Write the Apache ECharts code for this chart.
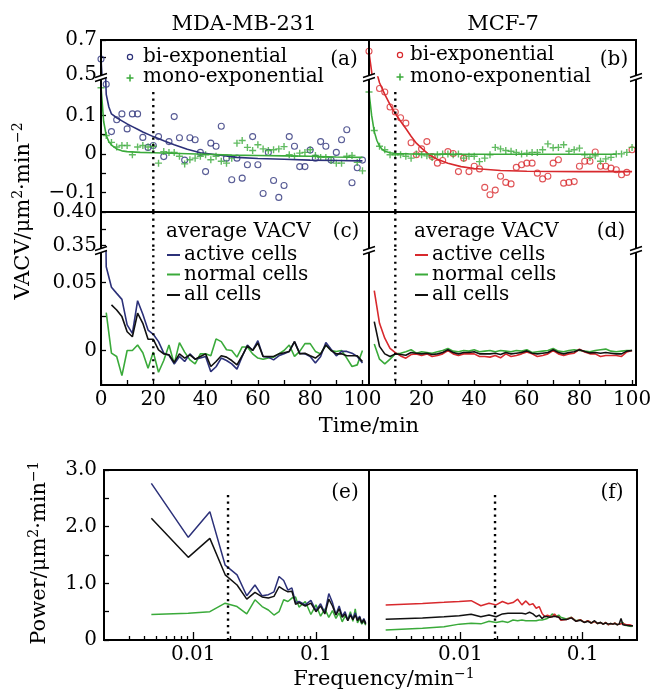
<!DOCTYPE html>
<html><head><meta charset="utf-8">
<script src="https://cdn.jsdelivr.net/npm/echarts@6/dist/echarts.min.js"></script>
<style>html,body{margin:0;padding:0;background:#fff}#c{width:650px;height:691px}</style>
</head><body><div id="c"></div>
<script>
// ---------------- DATA ----------------
const minutes = [0,2,4,6,8,10,12,14,16,18,20,22,24,26,28,30,32,34,36,38,40,42,44,46,48,50,52,54,56,58,60,62,64,66,68,70,72,74,76,78,80,82,84,86,88,90,92,94,96,98,100];

// (a) MDA-MB-231 VACV of single cells
const biA = [0.591,0.181,0.058,0.089,0.104,0.065,0.104,0.104,0.043,0.017,0.022,0.045,-0.007,0.032,0.097,0.042,-0.016,0.042,0.037,0.004,-0.046,0.028,0.020,0.072,-0.011,-0.067,-0.011,-0.063,-0.028,0.045,-0.028,-0.103,0.004,-0.069,-0.113,-0.082,0.045,0.020,-0.033,-0.033,0.010,-0.011,0.032,0.020,-0.016,0.004,0.037,0.063,-0.075,-0.036,-0.016];
const monoA = [0.172,0.048,0.030,0.018,0.022,0.022,-0.002,0.018,0.022,0.018,0.020,-0.024,0.006,0.004,0.004,-0.006,-0.026,-0.015,-0.011,-0.006,-0.002,-0.015,-0.006,-0.019,-0.024,-0.011,0.028,0.035,0.017,0.009,0.024,0.013,0.009,0.011,0.013,0.019,-0.002,-0.006,0.002,0.004,0.011,-0.004,-0.009,-0.009,-0.017,-0.024,-0.024,-0.006,-0.004,-0.022,-0.044];
const biFitTimeA = [0,1,2,3,4,6,8,10,12,14,16,20,24,28,33,38,45,52,60,70,80,90,100];
const biFitA = [0.59,0.35,0.155,0.122,0.104,0.094,0.086,0.078,0.071,0.064,0.057,0.045,0.034,0.024,0.012,0.003,-0.003,-0.009,-0.012,-0.014,-0.016,-0.017,-0.018];
const monoFitTimeA = [0,1,2,3,4,6,8,10,15,20,30,40,50,60,70,80,90,100];
const monoFitA = [0.176,0.085,0.048,0.032,0.023,0.013,0.008,0.006,0.004,0.003,0.001,-0.001,-0.003,-0.004,-0.005,-0.006,-0.008,-0.009];

// (b) MCF-7
const biB = [0.636,0.30,0.170,0.161,0.122,0.109,0.094,0.080,0.029,-0.002,0.013,0.032,-0.007,-0.024,-0.017,0.006,0.001,-0.046,-0.011,-0.046,-0.032,-0.039,-0.087,-0.106,-0.094,-0.058,-0.074,-0.078,-0.035,-0.028,-0.024,-0.024,-0.050,-0.065,-0.058,-0.024,-0.015,-0.076,-0.074,-0.072,-0.032,-0.019,-0.019,0.005,-0.032,-0.032,-0.037,-0.041,-0.054,-0.048,0.011];
const monoB = [0.161,0.061,0.020,0.011,-0.002,-0.002,-0.002,-0.006,-0.011,0.000,-0.002,-0.005,-0.009,-0.002,0.000,0.000,-0.002,0.000,-0.011,-0.006,-0.006,-0.020,-0.011,-0.002,0.017,0.013,0.009,0.007,0.004,0.000,0.002,0.004,0.004,0.011,0.026,0.016,0.017,0.024,0.007,0.011,0.015,-0.002,-0.009,-0.005,-0.019,-0.013,-0.009,0.000,0.000,0.004,0.017];
const biFitTimeB = [0,1,2,3,4,6,8,10,12,14,16,18,20,23,26,30,35,40,50,60,80,100];
const biFitB = [0.63,0.52,0.35,0.21,0.185,0.155,0.128,0.105,0.085,0.066,0.046,0.028,0.015,-0.003,-0.014,-0.024,-0.033,-0.038,-0.043,-0.045,-0.046,-0.046];
const monoFitTimeB = [0,1,2,3,4,5,6,8,10,15,30,50,70,94];
const monoFitB = [0.161,0.10,0.058,0.035,0.020,0.012,0.007,0.003,0.001,0.0,-0.001,-0.001,-0.001,-0.001];

// (c) MDA-MB-231 average VACV
const activeC = [0.355,0.0616,0.0465,0.042,0.0376,0.0188,0.0126,0.0366,0.0266,0.015,0.0119,0.0065,-0.002,-0.0036,-0.0099,-0.0044,-0.0081,-0.0025,-0.0064,-0.0056,-0.0044,-0.0156,-0.012,-0.0056,-0.0074,-0.0099,-0.0137,-0.0044,0.004,0.0,0.0072,-0.0044,-0.0049,-0.0069,-0.0039,-0.0025,-0.0007,0.0065,-0.002,-0.0025,-0.0044,-0.0093,-0.0044,0.0058,0.0009,-0.0039,-0.0007,-0.0007,-0.002,-0.0044,-0.0093];
const normalC = [null,0.0278,-0.002,-0.0044,-0.0185,0.0,0.0,0.004,-0.0017,-0.0131,-0.0012,-0.016,-0.0074,0.004,-0.0099,0.0058,-0.0012,-0.0069,-0.0098,-0.0025,-0.0025,-0.0039,0.0085,0.0065,0.0005,0.0,-0.0049,0.0026,0.0026,-0.0025,-0.0056,-0.0064,-0.0056,-0.0049,-0.0025,0.0,0.004,-0.0044,-0.0007,0.005,0.005,-0.0007,-0.0025,0.004,0.0,-0.0007,0.0,-0.0056,-0.0118,-0.0106,0.0];
const allC = [null,null,0.0335,0.0298,0.0249,0.0138,0.0101,0.0274,0.02,0.0082,0.0082,0.0005,-0.0025,-0.0032,-0.0088,-0.0025,-0.0056,-0.0032,-0.0064,-0.0044,-0.0025,-0.0118,-0.0081,-0.0039,-0.0049,-0.0074,-0.0106,-0.0039,0.0034,0.0,0.0055,-0.0044,-0.0044,-0.0044,-0.0025,-0.0017,-0.0007,0.0065,-0.0025,-0.002,-0.0039,-0.0056,-0.0025,0.004,0.0,-0.0025,-0.0025,-0.0039,-0.0039,-0.0039,-0.0081];

// (d) MCF-7 average VACV
const activeD = [null,0.044,0.020,0.009,0.0016,-0.0016,-0.004,-0.0057,-0.003,-0.0025,-0.0037,-0.0025,-0.0044,-0.0037,-0.0025,0.0,-0.0025,-0.0037,-0.0025,-0.0025,-0.0025,-0.0044,-0.0044,-0.0049,-0.0037,-0.0054,-0.0025,-0.0044,-0.0037,-0.0025,-0.0011,-0.0025,-0.0044,-0.0037,-0.0025,0.0,-0.0025,-0.0037,-0.0025,-0.002,0.0009,-0.0011,-0.0025,-0.0025,-0.0044,-0.0037,-0.0037,-0.0037,-0.0044,-0.0011,0.0];
const normalD = [null,0.0048,-0.0064,-0.0098,-0.0064,-0.0025,-0.002,-0.001,0.0005,-0.002,-0.001,-0.0015,-0.002,-0.001,0.0,0.0015,-0.0005,-0.001,0.0,-0.0005,0.0005,-0.001,-0.0005,0.0,-0.001,0.0,-0.0005,-0.001,0.0,-0.0005,0.0005,-0.0015,-0.001,-0.0005,0.0,0.0015,-0.0005,-0.001,0.0,0.0005,0.0,-0.0005,-0.001,0.0,0.0005,0.001,-0.0005,-0.001,-0.0005,0.0,0.0];
const allD = [null,0.0212,0.003,-0.0025,-0.0044,-0.0025,-0.003,-0.0035,-0.0015,-0.002,-0.0025,-0.002,-0.003,-0.0025,-0.0015,0.0005,-0.0015,-0.0025,-0.0015,-0.0015,-0.001,-0.0025,-0.0025,-0.0025,-0.002,-0.003,-0.0015,-0.0025,-0.002,-0.0015,-0.0003,-0.002,-0.0025,-0.002,-0.0015,0.0005,-0.0015,-0.0025,-0.0015,-0.001,0.0005,-0.0008,-0.0018,-0.0015,-0.002,-0.0015,-0.002,-0.0025,-0.0025,-0.0005,0.0];

// (e) MDA-MB-231 power spectra
const freqE = [0.00455,0.0091,0.01365,0.0182,0.02275,0.0273,0.03185,0.0364,0.04095,0.0455,0.05005,0.0546,0.05915,0.0637,0.06825,0.0728,0.0819,0.091,0.1001,0.1092,0.1183,0.1274,0.1365,0.1456,0.1547,0.1638,0.1729,0.182,0.1911,0.2002,0.2093,0.2184,0.2275,0.2366,0.2457,0.2548];
const activeE = [2.765,1.812,2.265,1.32,1.15,0.78,0.97,0.78,0.80,0.85,1.12,1.05,0.88,0.92,0.66,0.68,0.62,0.70,0.52,0.64,0.48,0.82,0.66,0.45,0.60,0.42,0.50,0.35,0.46,0.38,0.48,0.36,0.42,0.30,0.38,0.30];
const allE = [2.147,1.459,1.794,1.15,0.97,0.72,0.84,0.76,0.74,0.77,0.94,0.89,0.85,0.86,0.63,0.66,0.60,0.65,0.50,0.60,0.46,0.72,0.60,0.44,0.55,0.40,0.46,0.34,0.44,0.36,0.44,0.34,0.40,0.30,0.36,0.28];
const normalE = [0.45,0.47,0.50,0.65,0.59,0.46,0.71,0.59,0.53,0.44,0.50,0.71,0.68,0.74,0.76,0.58,0.68,0.45,0.62,0.42,0.55,0.40,0.52,0.38,0.48,0.32,0.42,0.36,0.50,0.33,0.55,0.30,0.38,0.28,0.33,0.26];

// (f) MCF-7 power spectra
const freqF = [0.00245,0.0049,0.00735,0.0098,0.01225,0.0147,0.01715,0.0196,0.02205,0.0245,0.02695,0.0294,0.03185,0.0343,0.03675,0.0392,0.04165,0.0441,0.04655,0.049,0.05145,0.0539,0.05635,0.0588,0.06125,0.0637,0.06615,0.0686,0.0735,0.08085,0.0882,0.09555,0.1029,0.11025,0.1176,0.12495,0.1323,0.13965,0.147,0.15435,0.1617,0.16905,0.1764,0.18375,0.1911,0.19845,0.2058,0.21315,0.2205,0.22785,0.2352,0.24255,0.2499,0.25725];
const activeF = [0.618,0.645,0.665,0.68,0.694,0.605,0.65,0.62,0.68,0.64,0.66,0.72,0.62,0.69,0.62,0.64,0.56,0.59,0.47,0.41,0.44,0.42,0.41,0.46,0.41,0.41,0.35,0.38,0.36,0.40,0.33,0.36,0.31,0.34,0.30,0.33,0.29,0.31,0.28,0.31,0.27,0.29,0.28,0.30,0.27,0.28,0.26,0.29,0.26,0.27,0.25,0.27,0.24,0.25];
const allF = [0.365,0.39,0.41,0.43,0.453,0.41,0.44,0.41,0.46,0.47,0.47,0.47,0.47,0.46,0.49,0.46,0.41,0.44,0.38,0.42,0.41,0.40,0.41,0.42,0.41,0.40,0.36,0.38,0.36,0.39,0.33,0.35,0.31,0.33,0.30,0.34,0.29,0.31,0.28,0.30,0.28,0.29,0.28,0.29,0.27,0.28,0.38,0.27,0.27,0.26,0.27,0.25,0.25,0.25];
const normalF = [0.176,0.206,0.235,0.28,0.294,0.285,0.33,0.31,0.33,0.31,0.353,0.34,0.353,0.34,0.34,0.34,0.34,0.353,0.353,0.365,0.38,0.41,0.46,0.44,0.42,0.44,0.40,0.40,0.37,0.40,0.34,0.36,0.31,0.34,0.30,0.33,0.29,0.31,0.28,0.31,0.27,0.29,0.28,0.30,0.27,0.28,0.27,0.31,0.26,0.27,0.25,0.27,0.24,0.25];

// reference (dotted) lines
const cutoffTimeMDA = 20, cutoffTimeMCF = 10, cutoffFreq = 0.0192;
const dottedTopVACV = 0.161, dottedBottomVACV = -0.022, dottedTopPower = 2.56;

// tick values
const timeTicks = [0,10,20,30,40,50,60,70,80,90,100];
const timeLabelsC = [0,20,40,60,80,100];
const timeLabelsD = [20,40,60,80,100];
const freqMinorTicks = [0.003,0.004,0.005,0.006,0.007,0.008,0.009,0.02,0.03,0.04,0.05,0.06,0.07,0.08,0.09,0.2];
const freqMajorTicks = [0.01,0.1];

// ---------------- STYLE / LAYOUT ----------------
const NAVY='#2c3179', RED='#d8292d', GREEN='#3aaa3a', BLACK='#111111';
const FONT='"DejaVu Serif","Liberation Serif",serif';
const PLUS='path://M0.4,0H0.6V0.4H1V0.6H0.6V1H0.4V0.6H0V0.4H0.4Z';
const L = {x0:101, xm:369, x1:636, yTop:40, yBrkA:77, yDiv:212, yBrkC:250, yBot:385, eX0:104, eX1:637, eTop:470, eBot:640};
const rng = {aUp:[0.489,0.7], aLo:[-0.151,0.2], cUp:[0.3433,0.40], cLo:[-0.0254,0.0739], e:[0,3],
  tA:102.5, tB:101.5, fE:[0.00187,0.271], fF:[0.00179,0.278]};

function zip(xs, ys){ return xs.map((x,i)=>[x, ys[i]]); }
const grids = [
  {left:L.x0, top:L.yTop, width:L.xm-L.x0, height:L.yBrkA-L.yTop},
  {left:L.x0, top:L.yBrkA, width:L.xm-L.x0, height:L.yDiv-L.yBrkA},
  {left:L.xm, top:L.yTop, width:L.x1-L.xm, height:L.yBrkA-L.yTop},
  {left:L.xm, top:L.yBrkA, width:L.x1-L.xm, height:L.yDiv-L.yBrkA},
  {left:L.x0, top:L.yDiv, width:L.xm-L.x0, height:L.yBrkC-L.yDiv},
  {left:L.x0, top:L.yBrkC, width:L.xm-L.x0, height:L.yBot-L.yBrkC},
  {left:L.xm, top:L.yDiv, width:L.x1-L.xm, height:L.yBrkC-L.yDiv},
  {left:L.xm, top:L.yBrkC, width:L.x1-L.xm, height:L.yBot-L.yBrkC},
  {left:L.eX0, top:L.eTop, width:L.xm-L.eX0, height:L.eBot-L.eTop},
  {left:L.xm, top:L.eTop, width:L.eX1-L.xm, height:L.eBot-L.eTop}
].map(g=>Object.assign({outerBoundsMode:'none', containLabel:false}, g));

const tickStyle = {color:'#000', width:1.3};
const noLine = {show:false, onZero:false};
function labelStyle(margin, fmt, custom){ return {show:!!custom, customValues:custom, margin, formatter:fmt, fontFamily:FONT, fontSize:20, color:'#000'}; }
function tickOpt(custom, len){ return {show:!!custom, inside:true, length:len||5, lineStyle:tickStyle, customValues:custom}; }

function timeAxis(g, max, ticks, labels){
  return {type:'value', gridIndex:g, position:'bottom', min:0, max, axisLine:noLine, splitLine:{show:false},
    axisTick:tickOpt(ticks), axisLabel:labelStyle(5, v=>String(v), labels)};
}
function valAxis(g, r, ticks, labels, fmt, margin){
  return {type:'value', gridIndex:g, position:'left', min:r[0], max:r[1], axisLine:noLine, splitLine:{show:false},
    axisTick:tickOpt(ticks), axisLabel:labelStyle(margin||4, fmt, labels)};
}
const fmt1 = v => v===0 ? '0' : (v<0?'\u2212':'') + Math.abs(v).toFixed(1);
const fmt2 = v => v===0 ? '0' : (v<0?'\u2212':'') + Math.abs(v).toFixed(2);

const xAxes = [
  timeAxis(0, rng.tA), timeAxis(1, rng.tA), timeAxis(2, rng.tB), timeAxis(3, rng.tB),
  timeAxis(4, rng.tA), timeAxis(5, rng.tA, timeTicks, timeLabelsC),
  timeAxis(6, rng.tB), timeAxis(7, rng.tB, timeTicks.slice(1), timeLabelsD),
  {type:'log', gridIndex:8, position:'bottom', logBase:10, min:rng.fE[0], max:rng.fE[1], axisLine:noLine, axisTick:{show:false}, axisLabel:{show:false}, splitLine:{show:false}},
  {type:'log', gridIndex:9, position:'bottom', logBase:10, min:rng.fF[0], max:rng.fF[1], axisLine:noLine, axisTick:{show:false}, axisLabel:{show:false}, splitLine:{show:false}}
];
// companion axes (log10 units) carrying the frequency ticks and labels
function freqTickAxis(g, r){
  return {type:'value', gridIndex:g, position:'bottom', offset:0, min:Math.log10(r[0]), max:Math.log10(r[1]), axisLine:noLine, splitLine:{show:false},
    axisTick:tickOpt(freqMinorTicks.map(Math.log10), 4),
    axisLabel:labelStyle(5, v=>String(+Math.pow(10,v).toPrecision(3)), freqMajorTicks.map(Math.log10))};
}
function freqMajorAxis(g, r){
  return {type:'value', gridIndex:g, position:'bottom', offset:0, min:Math.log10(r[0]), max:Math.log10(r[1]), axisLine:noLine, splitLine:{show:false},
    axisTick:tickOpt(freqMajorTicks.map(Math.log10), 8), axisLabel:{show:false}};
}
xAxes.push(freqTickAxis(8, rng.fE), freqTickAxis(9, rng.fF), freqMajorAxis(8, rng.fE), freqMajorAxis(9, rng.fF));

const yAxes = [
  valAxis(0, rng.aUp, [0.5,0.6,0.7], [0.5,0.7], fmt1),
  valAxis(1, rng.aLo, [-0.1,-0.05,0,0.05,0.1], [-0.1,0,0.1], fmt1),
  valAxis(2, rng.aUp), valAxis(3, rng.aLo),
  valAxis(4, rng.cUp, [0.35,0.375,0.40], [0.35,0.40], fmt2),
  valAxis(5, rng.cLo, [0,0.025,0.05], [0,0.05], fmt2),
  valAxis(6, rng.cUp), valAxis(7, rng.cLo),
  valAxis(8, rng.e, [0,0.5,1,1.5,2,2.5,3], [0,1,2,3], fmt1, 7),
  valAxis(9, rng.e)
];

function scatter(g, data, kind, color){
  const circ = kind==='circle';
  return {type:'scatter', xAxisIndex:g, yAxisIndex:g, data, symbol: circ?'circle':PLUS, symbolSize: circ?6:7,
    itemStyle: circ? {color:'rgba(255,255,255,0)', borderColor:color, borderWidth:1.1} : {color}, silent:true, clip:true, z:2};
}
function line(g, xg, data, color, w){
  return {type:'line', xAxisIndex:xg, yAxisIndex:g, data, symbol:'none', showSymbol:false, lineStyle:{color, width:w||1.6}, silent:true, clip:true, connectNulls:false, z:3};
}
function dotted(g, xg, data){
  return {type:'line', xAxisIndex:xg, yAxisIndex:g, data, symbol:'none', showSymbol:false, lineStyle:{color:'#000', width:2.4, type:[2.2,4.3]}, silent:true, clip:true, z:4};
}

const series = [];
[0,1].forEach(g=>{
  series.push(scatter(g, zip(minutes, biA), 'circle', NAVY), scatter(g, zip(minutes, monoA), 'plus', GREEN),
    line(g, g, zip(biFitTimeA, biFitA), NAVY), line(g, g, zip(monoFitTimeA, monoFitA), GREEN));
});
[2,3].forEach(g=>{
  series.push(scatter(g, zip(minutes, biB), 'circle', RED), scatter(g, zip(minutes, monoB), 'plus', GREEN),
    line(g, g, zip(biFitTimeB, biFitB), RED), line(g, g, zip(monoFitTimeB, monoFitB), GREEN));
});
series.push(dotted(1, 1, [[cutoffTimeMDA, dottedTopVACV],[cutoffTimeMDA, rng.aLo[0]]]));
series.push(dotted(3, 3, [[cutoffTimeMCF, dottedTopVACV],[cutoffTimeMCF, rng.aLo[0]]]));
[4,5].forEach(g=>{
  series.push(line(g, g, zip(minutes, normalC), GREEN), line(g, g, zip(minutes, activeC), NAVY), line(g, g, zip(minutes, allC), BLACK));
  series.push(dotted(g, g, [[cutoffTimeMDA, rng.cUp[1]],[cutoffTimeMDA, g===4 ? rng.cUp[0] : dottedBottomVACV]]));
});
[6,7].forEach(g=>{
  series.push(line(g, g, zip(minutes, normalD), GREEN), line(g, g, zip(minutes, activeD), RED), line(g, g, zip(minutes, allD), BLACK));
  series.push(dotted(g, g, [[cutoffTimeMCF, rng.cUp[1]],[cutoffTimeMCF, g===6 ? rng.cUp[0] : dottedBottomVACV]]));
});
series.push(line(8, 8, zip(freqE, normalE), GREEN, 1.5), line(8, 8, zip(freqE, activeE), NAVY, 1.5), line(8, 8, zip(freqE, allE), BLACK, 1.5),
  dotted(8, 8, [[cutoffFreq, dottedTopPower],[cutoffFreq, 0]]));
series.push(line(9, 9, zip(freqF, normalF), GREEN, 1.5), line(9, 9, zip(freqF, activeF), RED, 1.5), line(9, 9, zip(freqF, allF), BLACK, 1.5),
  dotted(9, 9, [[cutoffFreq, dottedTopPower],[cutoffFreq, 0]]));

// ---------------- GRAPHIC (frames, breaks, text) ----------------
const G = [];
const frame = {fill:'none', stroke:'#000', lineWidth:2};
G.push({type:'rect', shape:{x:L.x0, y:L.yTop, width:L.x1-L.x0, height:L.yBot-L.yTop}, style:frame, z:50});
G.push({type:'line', shape:{x1:L.x0, y1:L.yDiv, x2:L.x1, y2:L.yDiv}, style:frame, z:50});
G.push({type:'line', shape:{x1:L.xm, y1:L.yTop, x2:L.xm, y2:L.yBot}, style:frame, z:50});
G.push({type:'rect', shape:{x:L.eX0, y:L.eTop, width:L.eX1-L.eX0, height:L.eBot-L.eTop}, style:frame, z:50});
G.push({type:'line', shape:{x1:L.xm, y1:L.eTop, x2:L.xm, y2:L.eBot}, style:frame, z:50});
[L.x0, L.xm, L.x1].forEach(cx=>{
  [L.yBrkA, L.yBrkC].forEach(cy=>{
    G.push({type:'polygon', shape:{points:[[cx-6,cy+0.5],[cx+6,cy-3.5],[cx+6,cy+0.5],[cx-6,cy+4.5]]}, style:{fill:'#fff'}, z:60});
    G.push({type:'line', shape:{x1:cx-6, y1:cy+0.5, x2:cx+6, y2:cy-3.5}, style:{stroke:'#000', lineWidth:1.4}, z:61});
    G.push({type:'line', shape:{x1:cx-6, y1:cy+4.5, x2:cx+6, y2:cy+0.5}, style:{stroke:'#000', lineWidth:1.4}, z:61});
  });
});
const rich = {sup:{fontSize:14, fontFamily:FONT, verticalAlign:'top', lineHeight:26, fill:'#000'}, n:{fontSize:21, fontFamily:FONT, lineHeight:26, fill:'#000'}};
function txt(s, x, y, size, align, rot){
  return {type:'text', x, y, rotation:rot||0, z:70, style:{text:s, font:(size||20)+'px '+FONT, fill:'#000', align:align||'center', verticalAlign:'middle'}};
}
function richTxt(s, x, y, rot){
  return {type:'text', x, y, rotation:rot||0, z:70, style:{text:s, font:'21px '+FONT, fill:'#000', align:'center', verticalAlign:'middle', rich}};
}
G.push(txt('MDA-MB-231', 244, 25, 21), txt('MCF-7', 503, 25, 21));
G.push(richTxt('{n|VACV/\u03bcm}{sup|2}{n|\u00b7min}{sup|\u22122}', 24, 211, Math.PI/2));
G.push(richTxt('{n|Power/\u03bcm}{sup|2}{n|\u00b7min}{sup|\u22121}', 40, 553, Math.PI/2));
G.push(txt('Time/min', 369, 427, 21));
G.push(richTxt('{n|Frequency/min}{sup|\u22121}', 384, 680, 0));
G.push(txt('(a)', 344, 60), txt('(b)', 614, 60), txt('(c)', 346, 232), txt('(d)', 611, 232), txt('(e)', 345, 493), txt('(f)', 612, 493));
// legends (a),(b)
function legendCircle(cx, cy, color){ return {type:'circle', shape:{cx, cy, r:2.6}, style:{fill:'none', stroke:color, lineWidth:1.2}, z:70}; }
function legendPlus(cx, cy, color){ return [
  {type:'line', shape:{x1:cx-3.5, y1:cy, x2:cx+3.5, y2:cy}, style:{stroke:color, lineWidth:1.5}, z:70},
  {type:'line', shape:{x1:cx, y1:cy-3.5, x2:cx, y2:cy+3.5}, style:{stroke:color, lineWidth:1.5}, z:70}]; }
G.push(legendCircle(130, 57, NAVY), txt('bi-exponential', 143, 57, 20, 'left'));
G.push(...legendPlus(130, 78, GREEN), txt('mono-exponential', 143, 77, 20, 'left'));
G.push(legendCircle(400, 55, RED), txt('bi-exponential', 410, 55, 20, 'left'));
G.push(...legendPlus(400, 77, GREEN), txt('mono-exponential', 410, 77, 20, 'left'));
// legends (c),(d)
function legendDash(x, y, color){ return {type:'line', shape:{x1:x, y1:y, x2:x+13, y2:y}, style:{stroke:color, lineWidth:2}, z:70}; }
const rows = [255, 274.5, 295];
G.push(txt('average VACV', 166, 232, 20, 'left'));
G.push(legendDash(167, rows[0], NAVY), txt('active cells', 184, rows[0], 20, 'left'));
G.push(legendDash(167, rows[1], GREEN), txt('normal cells', 184, rows[1], 20, 'left'));
G.push(legendDash(167, rows[2], BLACK), txt('all cells', 184, rows[2], 20, 'left'));
G.push(txt('average VACV', 414, 232, 20, 'left'));
G.push(legendDash(415, rows[0], RED), txt('active cells', 432, rows[0], 20, 'left'));
G.push(legendDash(415, rows[1], GREEN), txt('normal cells', 432, rows[1], 20, 'left'));
G.push(legendDash(415, rows[2], BLACK), txt('all cells', 432, rows[2], 20, 'left'));

const option = {
  animation:false, backgroundColor:'#fff',
  textStyle:{fontFamily:FONT},
  grid:grids, xAxis:xAxes, yAxis:yAxes, series,
  graphic:{elements:G}
};
const chart = echarts.init(document.getElementById('c'), null, {renderer:'canvas', width:650, height:691});
chart.setOption(option);
</script></body></html>
